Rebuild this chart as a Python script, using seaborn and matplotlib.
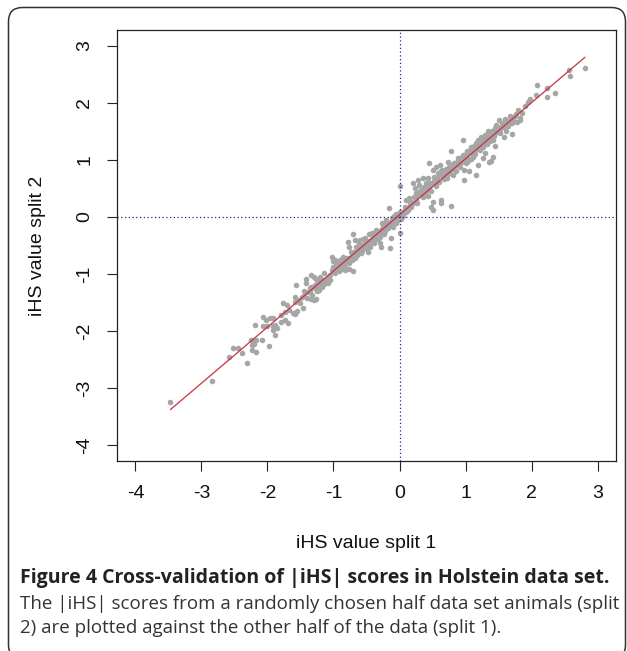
import numpy as np
import pandas as pd
import matplotlib
matplotlib.use("Agg")
import matplotlib.pyplot as plt
import matplotlib.patches as mpatches
from matplotlib.transforms import IdentityTransform
import seaborn as sns

# ---- data ----
split1_tail_low = [-3.47, -2.84, -2.59, -2.52, -2.44, -2.39, -2.31, -2.25, -2.23, -2.23,
                   -2.21, -2.17, -2.17, -2.09, -1.98, -1.89, -1.92, -2.19, -2.07, -2.02,
                   -1.96, -1.91, -2.07, -2.00, -1.92, -1.88, -1.85, -1.79, -1.74, -1.77,
                   -1.71, -1.79, -1.74, -1.69, -1.67, -1.62, -1.56, -1.58]
split2_tail_low = [-3.24, -2.87, -2.45, -2.29, -2.29, -2.39, -2.56, -2.15, -2.25, -2.33,
                   -2.23, -2.16, -2.36, -2.15, -2.26, -2.07, -1.98, -1.89, -1.75, -1.80,
                   -1.78, -1.77, -1.92, -1.91, -1.92, -1.89, -1.95, -1.72, -1.66, -1.51,
                   -1.54, -1.84, -1.81, -1.86, -1.63, -1.68, -1.65, -1.70]

split1_mid_low = [-1.57, -1.58, -1.58, -1.46, -1.41, -1.42, -1.39, -1.34, -1.29, -1.26,
                  -1.27, -1.24, -1.31, -1.26, -1.24, -1.34, -1.29, -1.34, -1.21, -1.19,
                  -1.14, -1.11, -1.09, -1.16, -1.22, -1.48, -1.44, -1.36, -1.50, -1.53,
                  -1.03, -1.01, -1.01, -0.98, -0.96, -1.03, -0.93, -0.91, -1.05, -0.98,
                  -0.88, -0.83, -0.76, -0.71, -0.85, -0.80, -0.95, -0.90, -0.86]
split2_mid_low = [-1.19, -1.41, -1.49, -1.60, -1.08, -1.16, -1.31, -1.43, -1.46, -1.43,
                  -1.27, -1.19, -1.22, -1.08, -1.14, -1.02, -1.05, -1.22, -1.05, -1.11,
                  -0.99, -1.08, -1.16, -1.20, -1.28, -1.40, -1.30, -1.25, -1.50, -1.45,
                  -0.70, -0.78, -0.87, -0.75, -0.84, -0.93, -0.90, -0.81, -1.02, -0.98,
                  -0.86, -0.93, -0.92, -0.94, -0.78, -0.72, -0.80, -0.76, -0.70]

split1_center = [-0.78, -0.76, -0.71, -0.68, -0.66, -0.63, -0.61, -0.73, -0.70, -0.65,
                 -0.58, -0.56, -0.50, -0.48, -0.45, -0.43, -0.40, -0.38, -0.53, -0.55,
                 -0.35, -0.30, -0.28, -0.25, -0.23, -0.20, -0.18, -0.15, -0.13, -0.10,
                 -0.30, -0.28, -0.15, -0.13, -0.16, -0.08, -0.05, -0.03, 0.00, -0.22,
                 -0.33, -0.06, 0.02, 0.01, 0.00, 0.05, 0.08, 0.10, 0.15, 0.13,
                 0.18, 0.20, 0.25, 0.20, 0.23, 0.25, 0.06, 0.10, 0.16,
                 -0.62, -0.60, -0.52, -0.46, -0.42, -0.36, -0.26, -0.20, -0.12]
split2_center = [-0.43, -0.52, -0.29, -0.40, -0.52, -0.58, -0.46, -0.62, -0.70, -0.67,
                 -0.64, -0.55, -0.49, -0.61, -0.52, -0.40, -0.35, -0.46, -0.45, -0.38,
                 -0.29, -0.35, -0.23, -0.17, -0.29, -0.14, -0.20, -0.11, -0.08, -0.17,
                 -0.46, -0.52, -0.55, -0.37, 0.15, 0.01, 0.06, -0.05, 0.09, -0.24,
                 -0.38, -0.10, -0.03, -0.28, 0.55, 0.06, 0.18, 0.30, 0.33, 0.12,
                 0.18, 0.24, 0.30, 0.59, 0.50, 0.42, 0.02, 0.08, 0.22,
                 -0.50, -0.40, -0.36, -0.30, -0.28, -0.22, -0.10, -0.05, -0.02]

split1_mid_high = [0.28, 0.30, 0.35, 0.33, 0.40, 0.43, 0.45, 0.38, 0.43, 0.50,
                   0.48, 0.63, 0.78, 0.45, 0.50, 0.56, 0.58, 0.61, 0.63, 0.66,
                   0.71, 0.73, 0.76, 0.78, 0.81, 0.78, 0.96, 0.55, 0.60, 0.68,
                   0.35, 0.40, 0.83, 0.88, 0.91, 0.93, 0.96, 0.98, 1.01, 1.03,
                   1.06, 1.09, 1.11, 1.14, 1.16, 1.19, 1.21, 1.24, 1.26, 1.29,
                   1.31, 1.34, 1.36, 1.39, 1.41, 1.44, 1.46, 1.49, 0.98, 1.16,
                   1.36, 1.19, 1.26, 1.06, 0.63, 0.50, 1.39, 0.88, 0.95, 1.00,
                   1.08, 1.12, 1.18, 1.23, 1.28, 1.33, 1.38, 1.47, 0.70, 0.74,
                   0.52, 0.30, 0.27]
split2_mid_high = [0.65, 0.56, 0.68, 0.47, 0.59, 0.68, 0.53, 0.39, 0.36, 0.27,
                   0.18, 0.24, 0.19, 0.94, 0.82, 0.88, 0.77, 0.91, 0.80, 0.71,
                   0.85, 0.97, 0.80, 0.91, 0.74, 1.15, 1.35, 0.55, 0.62, 0.66,
                   0.35, 0.45, 0.94, 1.03, 0.88, 1.00, 1.09, 0.82, 0.94, 1.03,
                   1.12, 1.23, 1.06, 1.18, 1.29, 1.35, 1.21, 1.41, 1.29, 1.44,
                   1.35, 1.50, 1.38, 1.47, 1.35, 1.56, 1.61, 1.53, 0.65, 0.74,
                   0.97, 0.91, 1.03, 0.80, 0.30, 0.12, 0.98, 0.92, 0.96, 1.10,
                   1.02, 1.14, 1.24, 1.30, 1.34, 1.42, 1.40, 1.50, 0.72, 0.76,
                   0.64, 0.40, 0.24]

split1_tail_high = [1.42, 1.44, 1.29, 1.71, 1.58, 1.55, 1.60, 1.65, 1.52, 1.68,
                    1.62, 1.58, 1.50, 1.66, 1.77, 1.80, 1.83, 1.86, 1.78, 1.82,
                    1.90, 1.72, 1.98, 1.95, 2.07, 2.09, 2.23, 2.23, 2.36, 2.57,
                    2.59, 2.81]
split2_tail_high = [1.05, 1.25, 1.12, 1.45, 1.40, 1.65, 1.72, 1.60, 1.55, 1.78,
                    1.50, 1.58, 1.70, 1.68, 1.80, 1.88, 1.74, 1.83, 1.67, 1.70,
                    1.95, 1.72, 2.07, 2.02, 2.14, 2.32, 2.26, 2.11, 2.17, 2.57,
                    2.47, 2.61]

# dense core of the band
split1_band_neg = [-1.45, -1.40, -1.35, -1.32, -1.28, -1.25, -1.20, -1.18, -1.15, -1.12,
                   -1.08, -1.06, -1.00, -0.97,
                   -0.94, -0.92, -0.89, -0.87, -0.84, -0.82, -0.79, -0.77, -0.74, -0.72,
                   -0.69, -0.67, -0.64, -0.59, -0.57, -0.54, -0.51, -0.49, -0.47, -0.44,
                   -0.41, -0.39, -0.37, -0.34, -0.32, -0.29, -0.27, -0.24, -0.21, -0.19,
                   -0.17, -0.14, -0.11, -0.09, -0.07, -0.04, -0.02]
split2_band_neg = [-1.38, -1.42, -1.30, -1.36, -1.20, -1.30, -1.15, -1.22, -1.10, -1.15,
                   -1.05, -1.10, -0.95, -0.92,
                   -0.86, -0.95, -0.80, -0.92, -0.82, -0.88, -0.76, -0.80, -0.70, -0.76,
                   -0.62, -0.72, -0.60, -0.55, -0.60, -0.50, -0.55, -0.42, -0.50, -0.45,
                   -0.38, -0.42, -0.33, -0.36, -0.28, -0.30, -0.26, -0.22, -0.20, -0.16,
                   -0.12, -0.15, -0.09, -0.06, -0.04, -0.02, 0.00]

split1_band_pos = [0.03, 0.07, 0.12, 0.17, 0.22, 0.26, 0.31, 0.34, 0.37, 0.41,
                   0.44, 0.47, 0.49, 0.53, 0.57, 0.62, 0.65, 0.69, 0.72, 0.75,
                   0.79, 0.82, 0.85, 0.87, 0.90, 0.94, 0.97, 1.02, 1.04, 1.07,
                   1.10, 1.13, 1.15, 1.17, 1.20, 1.22, 1.25, 1.27, 1.30, 1.32,
                   1.35, 1.37, 1.40, 1.43, 1.45, 1.48, 1.53, 1.56, 1.63, 1.70,
                   1.75]
split2_band_pos = [0.04, 0.10, 0.16, 0.26, 0.35, 0.36, 0.45, 0.40, 0.52, 0.50,
                   0.60, 0.45, 0.60, 0.70, 0.68, 0.74, 0.82, 0.78, 0.68, 0.88,
                   0.84, 0.86, 0.80, 0.97, 0.93, 1.05, 0.98, 1.16, 0.98, 1.18,
                   1.13, 1.25, 1.10, 1.20, 1.30, 1.17, 1.35, 1.22, 1.38, 1.28,
                   1.45, 1.33, 1.50, 1.42, 1.48, 1.58, 1.48, 1.62, 1.66, 1.65,
                   1.78]

tick_values = [-4, -3, -2, -1, 0, 1, 2, 3]
axis_limits = (-4, 3)
x_label = "iHS value split 1"
y_label = "iHS value split 2"
caption_title = "Figure 4 Cross-validation of |iHS| scores in Holstein data set."
caption_lines = ["The |iHS| scores from a randomly chosen half data set animals (split",
                 "2) are plotted against the other half of the data (split 1)."]

df = pd.DataFrame({
    "split1": (split1_tail_low + split1_mid_low + split1_band_neg + split1_center
               + split1_band_pos + split1_mid_high + split1_tail_high),
    "split2": (split2_tail_low + split2_mid_low + split2_band_neg + split2_center
               + split2_band_pos + split2_mid_high + split2_tail_high),
})

# ---- style ----
sns.set_style("white")
plt.rcParams["font.family"] = ["Liberation Sans", "DejaVu Sans"]

W, H = 627, 651
fig = plt.figure(figsize=(W / 100, H / 100), dpi=100)
left, right, top, bottom = 117, 616, 30, 461
ax = fig.add_axes([left / W, (H - bottom) / H, (right - left) / W, (bottom - top) / H])

sns.scatterplot(data=df, x="split1", y="split2", color="#a6a6a6", s=16,
                linewidth=0, ax=ax, zorder=2)
ax.axhline(0, color="#23238c", lw=0.9, ls=(0, (1, 2)), zorder=3)
ax.axvline(0, color="#23238c", lw=0.9, ls=(0, (1, 2)), zorder=3)
sns.regplot(data=df, x="split1", y="split2", scatter=False, ci=None, truncate=True,
            line_kws=dict(color="#c8323c", lw=0.9, zorder=4), ax=ax)

lo, hi = axis_limits
pad = 0.04 * (hi - lo)
ax.set_xlim(lo - pad, hi + pad)
ax.set_ylim(lo - pad, hi + pad)
ax.set_xticks(tick_values)
ax.set_yticks(tick_values)
ax.set_xticklabels([str(t) for t in tick_values])
ax.set_yticklabels([str(t) for t in tick_values], rotation=90, va="center")
ax.tick_params(axis="both", direction="out", length=7.2, width=0.8, color="#222222",
               labelsize=14, pad=10, labelcolor="#111111", left=True, bottom=True)

for sp in ax.spines.values():
    sp.set_color("#222222")
    sp.set_linewidth(0.9)

ax.set_xlabel(x_label, fontsize=14, color="#111111")
ax.set_ylabel(y_label, fontsize=14, color="#111111")
ax.xaxis.set_label_coords(0.5, -(543 - bottom) / (bottom - top))
ax.xaxis.label.set_va("center")
ax.yaxis.set_label_coords(-(left - 38) / (right - left), 0.5)
ax.yaxis.label.set_va("center")

# caption
fig.text(20 / W, 1 - 578 / H, caption_title, fontsize=14, fontweight="bold",
         family=["Open Sans", "DejaVu Sans"], color="#222222", va="center", ha="left")
for i, line in enumerate(caption_lines):
    fig.text(20 / W, 1 - (604 + 24 * i) / H, line, fontsize=13.5,
             family=["Open Sans", "DejaVu Sans"], color="#333333", va="center", ha="left")

# rounded border
border = mpatches.FancyBboxPatch((8.5, -8), 617, H - 7.5 + 8,
                                 boxstyle="round,pad=0,rounding_size=14",
                                 transform=IdentityTransform(), fill=False,
                                 ec="#333333", lw=1.1)
fig.patches.append(border)

fig.savefig("out.png", dpi=100)
